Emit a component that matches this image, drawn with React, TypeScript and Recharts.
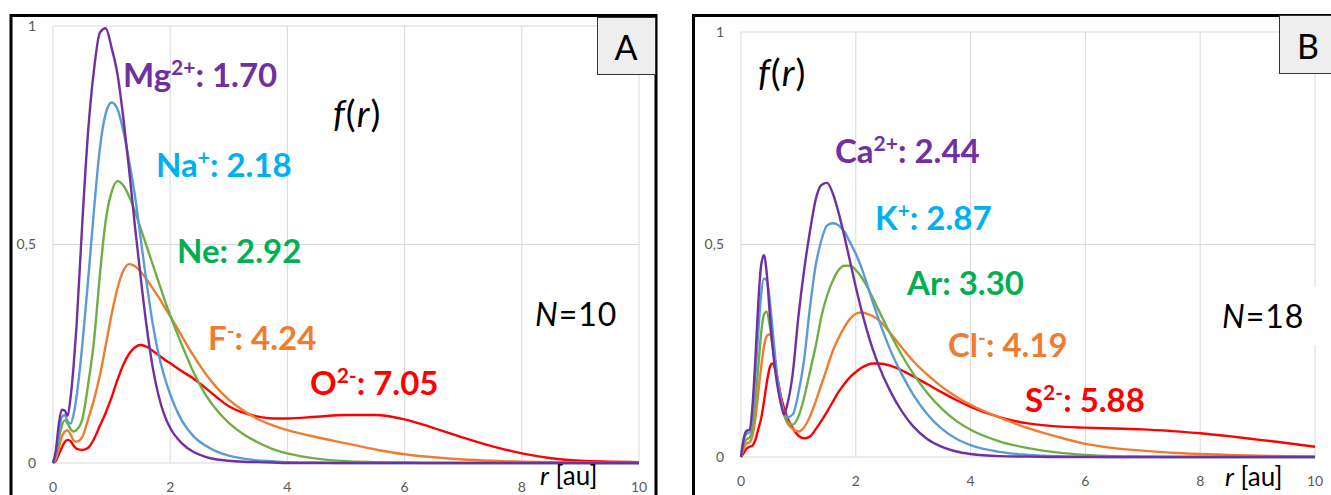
import React from 'react';
import { LineChart, Line, XAxis, YAxis, CartesianGrid } from 'recharts';

// r grid (au) and f(r) values for panel A (N=10)
const R_A = [
  0, 0.05, 0.1, 0.15, 0.2, 0.25, 0.3, 0.35, 0.4,
  0.5, 0.6, 0.7, 0.8, 0.9, 1.0, 1.1, 1.2, 1.3, 1.4, 1.5, 1.6, 1.7, 1.8, 1.9, 2.0,
  2.2, 2.4, 2.6, 2.8, 3.0,
  3.25, 3.5, 3.75,
  4.0, 4.5, 5.0, 5.5, 6.0, 6.5, 7.0, 7.5, 8.0, 8.5, 9.0, 9.5, 10,
];
const MG = [
  0, 0.03, 0.09, 0.122, 0.12, 0.108, 0.15, 0.22, 0.31,
  0.55, 0.76, 0.9, 0.985, 0.995, 0.95, 0.89, 0.79, 0.67, 0.54, 0.42, 0.31, 0.22, 0.155, 0.11, 0.08,
  0.045, 0.025, 0.014, 0.008, 0.005,
  0.003, 0.002, 0.001,
  0, 0, 0, 0, 0, 0, 0, 0, 0, 0, 0, 0, 0,
];
const NA = [
  0, 0.02, 0.07, 0.105, 0.11, 0.095, 0.09, 0.11, 0.15,
  0.27, 0.42, 0.58, 0.72, 0.8, 0.825, 0.81, 0.76, 0.69, 0.61, 0.51, 0.41, 0.32, 0.25, 0.198, 0.157,
  0.097, 0.061, 0.04, 0.026, 0.017,
  0.01, 0.006, 0.004,
  0.002, 0.001, 0, 0, 0, 0, 0, 0, 0, 0, 0, 0, 0,
];
const NE = [
  0, 0.015, 0.055, 0.085, 0.098, 0.09, 0.078, 0.072, 0.075,
  0.1, 0.18, 0.28, 0.43, 0.555, 0.62, 0.645, 0.635, 0.61, 0.575, 0.535, 0.495, 0.455, 0.415, 0.375, 0.338,
  0.27, 0.207, 0.157, 0.12, 0.092,
  0.066, 0.047, 0.032,
  0.022, 0.01, 0.004, 0.002, 0.001, 0, 0, 0, 0, 0, 0, 0, 0,
];
const FL = [
  0, 0.01, 0.035, 0.06, 0.072, 0.075, 0.065, 0.052, 0.049,
  0.06, 0.1, 0.145, 0.2, 0.27, 0.34, 0.4, 0.44, 0.455, 0.45, 0.437, 0.42, 0.4, 0.38, 0.358, 0.336,
  0.29, 0.245, 0.205, 0.172, 0.145,
  0.12, 0.1, 0.086,
  0.075, 0.059, 0.045, 0.031, 0.02, 0.013, 0.008, 0.005, 0.003, 0.002, 0.001, 0, 0,
];
const OX = [
  0, 0.005, 0.02, 0.035, 0.048, 0.053, 0.05, 0.04, 0.033,
  0.03, 0.035, 0.055, 0.085, 0.115, 0.15, 0.19, 0.225, 0.25, 0.265, 0.27, 0.266, 0.257, 0.247, 0.237, 0.228,
  0.21, 0.193, 0.172, 0.15, 0.13,
  0.115, 0.106, 0.102,
  0.102, 0.106, 0.11, 0.11, 0.1, 0.08, 0.058, 0.038, 0.022, 0.011, 0.005, 0.003, 0.002,
];

// r grid (au) and f(r) values for panel B (N=18)
const R_B = [
  0, 0.05, 0.1, 0.15, 0.2, 0.25, 0.3, 0.35, 0.4, 0.45, 0.5, 0.55, 0.6, 0.65, 0.7, 0.75, 0.8,
  0.9, 1.0, 1.1, 1.2, 1.3, 1.4, 1.5, 1.6, 1.7, 1.8, 1.9, 2.0, 2.1, 2.2, 2.3, 2.4,
  2.6, 2.8, 3.0,
  3.25, 3.5, 3.75,
  4.0, 4.5, 5.0, 5.5, 6.0, 6.5, 7.0, 7.5, 8.0, 8.5, 9.0, 9.5, 10,
];
const CA = [
  0, 0.045, 0.062, 0.064, 0.12, 0.23, 0.36, 0.45, 0.475, 0.43, 0.34, 0.26, 0.2, 0.155, 0.122, 0.1, 0.12,
  0.195, 0.33, 0.44, 0.53, 0.605, 0.64, 0.645, 0.62, 0.575, 0.52, 0.46, 0.4, 0.345, 0.295, 0.252, 0.215,
  0.155, 0.108, 0.072,
  0.042, 0.024, 0.013,
  0.007, 0.002, 0.001, 0, 0, 0, 0, 0, 0, 0, 0, 0, 0,
];
const KP = [
  0, 0.04, 0.055, 0.058, 0.1, 0.19, 0.29, 0.38, 0.42, 0.415, 0.37, 0.3, 0.23, 0.17, 0.13, 0.105, 0.093,
  0.1, 0.15, 0.23, 0.35, 0.45, 0.51, 0.545, 0.55, 0.545, 0.53, 0.505, 0.478, 0.445, 0.405, 0.363, 0.323,
  0.252, 0.195, 0.147,
  0.1, 0.066, 0.043,
  0.028, 0.012, 0.005, 0.002, 0.001, 0, 0, 0, 0, 0, 0, 0, 0,
];
const AR = [
  0, 0.03, 0.042, 0.045, 0.07, 0.13, 0.21, 0.29, 0.335, 0.342, 0.31, 0.26, 0.21, 0.165, 0.13, 0.1, 0.085,
  0.076, 0.095, 0.14, 0.2, 0.26, 0.33, 0.38, 0.415, 0.44, 0.45, 0.45, 0.44, 0.423, 0.4, 0.373, 0.345,
  0.29, 0.24, 0.196,
  0.15, 0.113, 0.085,
  0.064, 0.037, 0.021, 0.011, 0.005, 0.002, 0.001, 0, 0, 0, 0, 0, 0,
];
const CL = [
  0, 0.02, 0.032, 0.035, 0.05, 0.09, 0.15, 0.21, 0.26, 0.285, 0.289, 0.265, 0.22, 0.17, 0.13, 0.1, 0.082,
  0.066, 0.06, 0.07, 0.095, 0.13, 0.17, 0.21, 0.25, 0.28, 0.305, 0.325, 0.337, 0.34, 0.337, 0.331, 0.322,
  0.292, 0.258, 0.226,
  0.193, 0.165, 0.142,
  0.123, 0.093, 0.068, 0.048, 0.031, 0.021, 0.015, 0.01, 0.007, 0.005, 0.003, 0.002, 0.001,
];
const SX = [
  0, 0.01, 0.02, 0.024, 0.027, 0.04, 0.065, 0.09, 0.13, 0.175, 0.21, 0.22, 0.205, 0.175, 0.14, 0.115, 0.095,
  0.068, 0.05, 0.044, 0.048, 0.065, 0.085, 0.107, 0.13, 0.153, 0.172, 0.188, 0.2, 0.21, 0.217, 0.22, 0.22,
  0.215, 0.204, 0.19,
  0.171, 0.152, 0.134,
  0.118, 0.094, 0.079, 0.072, 0.069, 0.067, 0.065, 0.061, 0.056, 0.049, 0.041, 0.033, 0.024,
];

const X_TICKS = [0, 2, 4, 6, 8, 10];
const Y_TICKS = [0, 0.5, 1];

const FONT = "Lato, 'Open Sans', sans-serif";
const PURPLE = '#7030A0';
const BLUE = '#5B9BD5';
const GREEN = '#70AD47';
const ORANGE = '#ED7D31';
const RED = '#FF0000';

const dataA = R_A.map((r, i) => ({ r, mg: MG[i], na: NA[i], ne: NE[i], f: FL[i], o: OX[i] }));
const dataB = R_B.map((r, i) => ({ r, ca: CA[i], k: KP[i], ar: AR[i], cl: CL[i], s: SX[i] }));

const linesA = [
  { key: 'o', color: RED },
  { key: 'f', color: ORANGE },
  { key: 'ne', color: GREEN },
  { key: 'na', color: BLUE },
  { key: 'mg', color: PURPLE },
];
const linesB = [
  { key: 's', color: RED },
  { key: 'cl', color: ORANGE },
  { key: 'ar', color: GREEN },
  { key: 'k', color: BLUE },
  { key: 'ca', color: PURPLE },
];

type PanelProps = {
  data: any[];
  lines: { key: string; color: string }[];
  left: number;
  width: number;
  top: number;
  right: number;
  xAxisHeight: number;
};

function Panel({ data, lines, left, width, top, right, xAxisHeight }: PanelProps) {
  const tickStyle = { fill: '#595959', fontSize: 14, fontFamily: FONT };
  return (
    <div style={{ position: 'absolute', left, top: 0 }}>
      <LineChart width={width} height={495} data={data} margin={{ top, right, bottom: 0, left: 0 }}>
        <CartesianGrid stroke='#d9d9d9' />
        <XAxis
          dataKey='r'
          type='number'
          domain={[0, 10]}
          ticks={X_TICKS}
          interval={0}
          axisLine={false}
          tickLine={false}
          height={xAxisHeight}
          tickMargin={13}
          tick={tickStyle}
        />
        <YAxis
          type='number'
          domain={[0, 1]}
          ticks={Y_TICKS}
          interval={0}
          width={53}
          axisLine={false}
          tickLine={false}
          tickMargin={11}
          tick={tickStyle}
          tickFormatter={(v: number) => String(v).replace('.', ',')}
        />
        {lines.map((l) => (
          <Line
            key={l.key}
            dataKey={l.key}
            type='monotone'
            stroke={l.color}
            strokeWidth={2.4}
            dot={false}
            isAnimationActive={false}
          />
        ))}
      </LineChart>
    </div>
  );
}

// ion label with superscript charge
function IonLabel({ x, y, color, name, charge, value }: any) {
  return (
    <text x={x} y={y} fill={color} fontSize={33} fontWeight={700} fontFamily={FONT}>
      {name}
      {charge ? (
        <tspan dy={-12} fontSize={21}>
          {charge}
        </tspan>
      ) : null}
      <tspan dy={charge ? 12 : 0}>{`: ${value}`}</tspan>
    </text>
  );
}

function FLabel({ x, y }: { x: number; y: number }) {
  return (
    <text x={x} y={y} fontSize={37} letterSpacing={1} fontFamily={FONT} fill='#000'>
      <tspan fontStyle='italic'>f</tspan>(<tspan fontStyle='italic'>r</tspan>)
    </text>
  );
}

function NLabel({ x, y, n }: { x: number; y: number; n: number }) {
  return (
    <text x={x} y={y} fontSize={32} letterSpacing={1} fontFamily={FONT} fill='#000'>
      <tspan fontStyle='italic'>N</tspan>={n}
    </text>
  );
}

function RLabel({ x, y }: { x: number; y: number }) {
  return (
    <text x={x} y={y} fontSize={26} fontFamily={FONT} fill='#000'>
      <tspan fontStyle='italic'>r</tspan> [au]
    </text>
  );
}

export default function App() {
  return (
    <div
      style={{
        position: 'absolute',
        left: 0,
        top: 0,
        width: 1331,
        height: 495,
        overflow: 'hidden',
        background: '#fff',
      }}
    >
      <Panel data={dataA} lines={linesA} left={0} width={660} top={26} right={21} xAxisHeight={32} />
      <Panel data={dataB} lines={linesB} left={688} width={643} top={32} right={16} xAxisHeight={38} />

      <svg
        width={1331}
        height={495}
        style={{ position: 'absolute', left: 0, top: 0, pointerEvents: 'none' }}
      >
        {/* frames */}
        <rect x={11} y={15.5} width={645} height={600} fill='none' stroke='#000' strokeWidth={3} />
        <rect x={693.5} y={15.5} width={700} height={600} fill='none' stroke='#000' strokeWidth={3} />

        {/* panel A */}
        <rect x={597.5} y={17.5} width={58} height={57} fill='#eeeeee' stroke='#333' strokeWidth={1} />
        <text x={626} y={60} textAnchor='middle' fontSize={34} fontFamily={FONT} fill='#000'>
          A
        </text>
        <IonLabel x={123} y={87} color={PURPLE} name='Mg' charge='2+' value='1.70' />
        <IonLabel x={156} y={177} color='#00B0F0' name='Na' charge='+' value='2.18' />
        <IonLabel x={177} y={263} color='#00B050' name='Ne' value='2.92' />
        <IonLabel x={208} y={350} color={ORANGE} name='F' charge='-' value='4.24' />
        <IonLabel x={310} y={395} color={RED} name='O' charge='2-' value='7.05' />
        <FLabel x={333} y={127} />
        <NLabel x={535} y={326} n={10} />
        <RLabel x={540} y={485} />

        {/* panel B */}
        <rect x={1279.5} y={15.5} width={60} height={58} fill='#eeeeee' stroke='#333' strokeWidth={1} />
        <text x={1308} y={59} textAnchor='middle' fontSize={34} fontFamily={FONT} fill='#000'>
          B
        </text>
        <IonLabel x={835} y={163} color={PURPLE} name='Ca' charge='2+' value='2.44' />
        <IonLabel x={875} y={230} color='#00B0F0' name='K' charge='+' value='2.87' />
        <IonLabel x={907} y={295} color='#00B050' name='Ar' value='3.30' />
        <IonLabel x={948} y={357} color={ORANGE} name='Cl' charge='-' value='4.19' />
        <IonLabel x={1025} y={412} color={RED} name='S' charge='2-' value='5.88' />
        <FLabel x={758} y={86} />
        <rect x={1216} y={287} width={104} height={58} fill='#fff' />
        <NLabel x={1222} y={328} n={18} />
        <RLabel x={1225} y={486} />
      </svg>
    </div>
  );
}
